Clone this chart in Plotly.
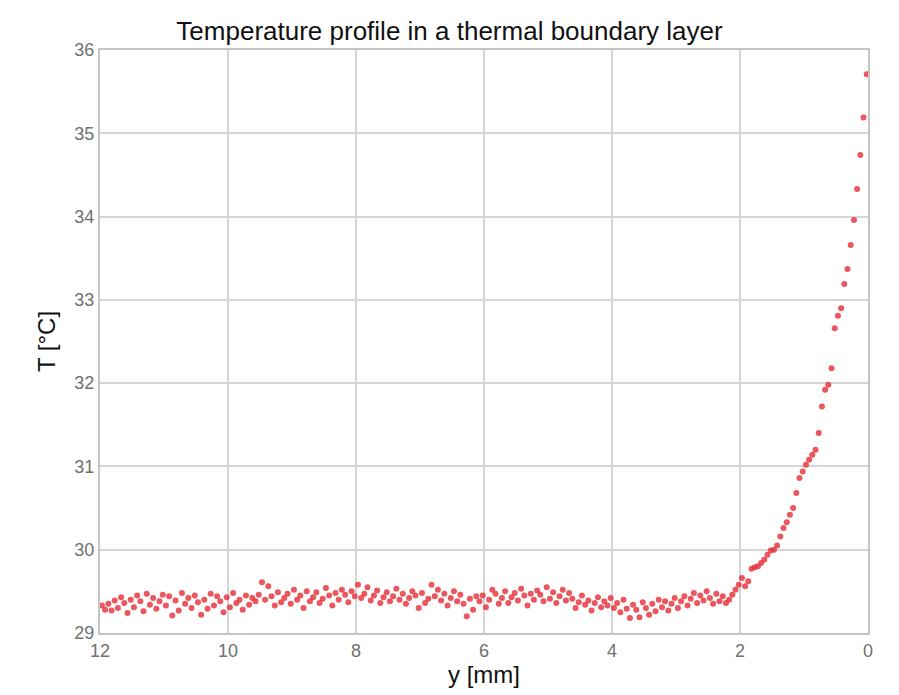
import plotly.graph_objects as go

# Distance from wall y [mm]
y_mm = [
    0.02, 0.07, 0.12, 0.17, 0.22, 0.27, 0.32, 0.37, 0.42, 0.47,
    0.52, 0.57, 0.62, 0.67, 0.72, 0.77, 0.82, 0.87, 0.92, 0.97,
    1.02, 1.07, 1.12, 1.17, 1.22, 1.27, 1.32, 1.37, 1.42, 1.47,
    1.52, 1.57, 1.62, 1.67, 1.72, 1.77, 1.82, 1.87, 1.92, 1.97,
    2.02, 2.07, 2.12, 2.17, 2.22, 2.27, 2.32, 2.37, 2.42, 2.47,
    2.52, 2.57, 2.62, 2.67, 2.72, 2.77, 2.82, 2.87, 2.92, 2.97,
    3.02, 3.07, 3.12, 3.17, 3.22, 3.27, 3.32, 3.37, 3.42, 3.47,
    3.52, 3.57, 3.62, 3.67, 3.72, 3.77, 3.82, 3.87, 3.92, 3.97,
    4.02, 4.07, 4.12, 4.17, 4.22, 4.27, 4.32, 4.37, 4.42, 4.47,
    4.52, 4.57, 4.62, 4.67, 4.72, 4.77, 4.82, 4.87, 4.92, 4.97,
    5.02, 5.07, 5.12, 5.17, 5.22, 5.27, 5.32, 5.37, 5.42, 5.47,
    5.52, 5.57, 5.62, 5.67, 5.72, 5.77, 5.82, 5.87, 5.92, 5.97,
    6.02, 6.07, 6.12, 6.17, 6.22, 6.27, 6.32, 6.37, 6.42, 6.47,
    6.52, 6.57, 6.62, 6.67, 6.72, 6.77, 6.82, 6.87, 6.92, 6.97,
    7.02, 7.07, 7.12, 7.17, 7.22, 7.27, 7.32, 7.37, 7.42, 7.47,
    7.52, 7.57, 7.62, 7.67, 7.72, 7.77, 7.82, 7.87, 7.92, 7.97,
    8.02, 8.07, 8.12, 8.17, 8.22, 8.27, 8.32, 8.37, 8.42, 8.47,
    8.52, 8.57, 8.62, 8.67, 8.72, 8.77, 8.82, 8.87, 8.92, 8.97,
    9.02, 9.07, 9.12, 9.17, 9.22, 9.27, 9.32, 9.37, 9.42, 9.47,
    9.52, 9.57, 9.62, 9.67, 9.72, 9.77, 9.82, 9.87, 9.92, 9.97,
    10.02, 10.07, 10.12, 10.17, 10.22, 10.27, 10.32, 10.37, 10.42, 10.47,
    10.52, 10.57, 10.62, 10.67, 10.72, 10.77, 10.82, 10.87, 10.92, 10.97,
    11.02, 11.07, 11.12, 11.17, 11.22, 11.27, 11.32, 11.37, 11.42, 11.47,
    11.52, 11.57, 11.62, 11.67, 11.72, 11.77, 11.82, 11.87, 11.92, 11.97,
]

# Temperature T [°C]
temp_c = [
    35.71, 35.19, 34.74, 34.33, 33.96, 33.66, 33.37, 33.19, 32.90, 32.81,
    32.66, 32.18, 31.98, 31.92, 31.72, 31.40, 31.20, 31.14, 31.08, 31.02,
    30.94, 30.86, 30.68, 30.50, 30.42, 30.33, 30.26, 30.16, 30.05, 30.00,
    29.99, 29.94, 29.88, 29.84, 29.80, 29.79, 29.77, 29.62, 29.56, 29.66,
    29.58, 29.52, 29.46,
    29.40, 29.36, 29.44, 29.38, 29.47, 29.35, 29.42, 29.50, 29.39, 29.45,
    29.36, 29.48, 29.41, 29.33, 29.44, 29.38, 29.30, 29.42, 29.35, 29.27,
    29.38, 29.31, 29.40, 29.26, 29.35, 29.22, 29.30, 29.37, 29.19, 29.28,
    29.34, 29.18, 29.29, 29.40, 29.25, 29.36, 29.30, 29.42, 29.33, 29.38,
    29.31, 29.43, 29.36, 29.27, 29.39, 29.34, 29.45, 29.37, 29.30, 29.41,
    29.48, 29.39, 29.52, 29.44, 29.36, 29.49, 29.41, 29.55, 29.38, 29.46,
    29.51, 29.40, 29.47, 29.33, 29.45, 29.53, 29.39, 29.48, 29.43, 29.36,
    29.50, 29.42, 29.35, 29.47, 29.52, 29.40, 29.31, 29.45, 29.38, 29.44,
    29.28, 29.41, 29.20, 29.35, 29.46, 29.38, 29.50, 29.42, 29.33, 29.47,
    29.39, 29.52, 29.44, 29.58, 29.41, 29.36, 29.48, 29.30, 29.45, 29.50,
    29.42, 29.35, 29.47, 29.40, 29.53, 29.44, 29.38, 29.49, 29.43, 29.36,
    29.51, 29.45, 29.39, 29.55, 29.47, 29.42, 29.58, 29.44, 29.50, 29.37,
    29.46, 29.52, 29.40, 29.48, 29.33, 29.45, 29.54, 29.41, 29.36, 29.49,
    29.43, 29.38, 29.50, 29.30, 29.45, 29.40, 29.52, 29.35, 29.47, 29.42,
    29.37, 29.49, 29.33, 29.44, 29.56, 29.40, 29.61, 29.46, 29.38, 29.42,
    29.34, 29.45, 29.28, 29.40, 29.36, 29.48, 29.31, 29.43, 29.25, 29.38,
    29.44, 29.33, 29.47, 29.29, 29.40, 29.22, 29.37, 29.45, 29.30, 29.42,
    29.35, 29.48, 29.27, 29.39, 29.21, 29.44, 29.33, 29.46, 29.38, 29.29,
    29.42, 29.34, 29.47, 29.26, 29.38, 29.45, 29.31, 29.40, 29.24, 29.36,
    29.43, 29.30, 29.39, 29.27, 29.35, 29.28, 29.33,
]

x_ticks = [12, 10, 8, 6, 4, 2, 0]
y_ticks = [29, 30, 31, 32, 33, 34, 35, 36]

fig = go.Figure()
fig.add_trace(go.Scatter(
    x=y_mm, y=temp_c, mode="markers",
    marker=dict(color="rgba(230,45,55,0.8)", size=6, line=dict(width=0)),
    showlegend=False,
))

axis_common = dict(
    showgrid=True, gridcolor="#d6d6d6", gridwidth=1.5,
    showline=True, linecolor="#c4c4c4", linewidth=2, mirror=True,
    zeroline=False, ticks="",
    tickfont=dict(family="Liberation Sans Narrow, Liberation Sans", size=18, color="#707070"),
)

fig.update_layout(
    width=899, height=695,
    margin=dict(l=100, r=31, t=50, b=62),
    paper_bgcolor="white", plot_bgcolor="white",
    title=dict(text="Temperature profile in a thermal boundary layer",
               font=dict(family="Liberation Sans", size=26, color="#111"),
               x=0.5, xanchor="center", y=0.955, yanchor="middle"),
    xaxis=dict(range=[12, 0], tickvals=x_ticks, ticktext=[str(v) for v in x_ticks],
               title=dict(text="y [mm]", font=dict(family="Liberation Sans", size=24, color="#111"), standoff=4),
               **axis_common),
    yaxis=dict(range=[29, 36], tickvals=y_ticks, ticktext=[str(v) for v in y_ticks],
               title=dict(text="T [°C]", font=dict(family="Liberation Sans", size=24, color="#111"), standoff=12),
               **axis_common),
)

fig.write_html("out.html")
